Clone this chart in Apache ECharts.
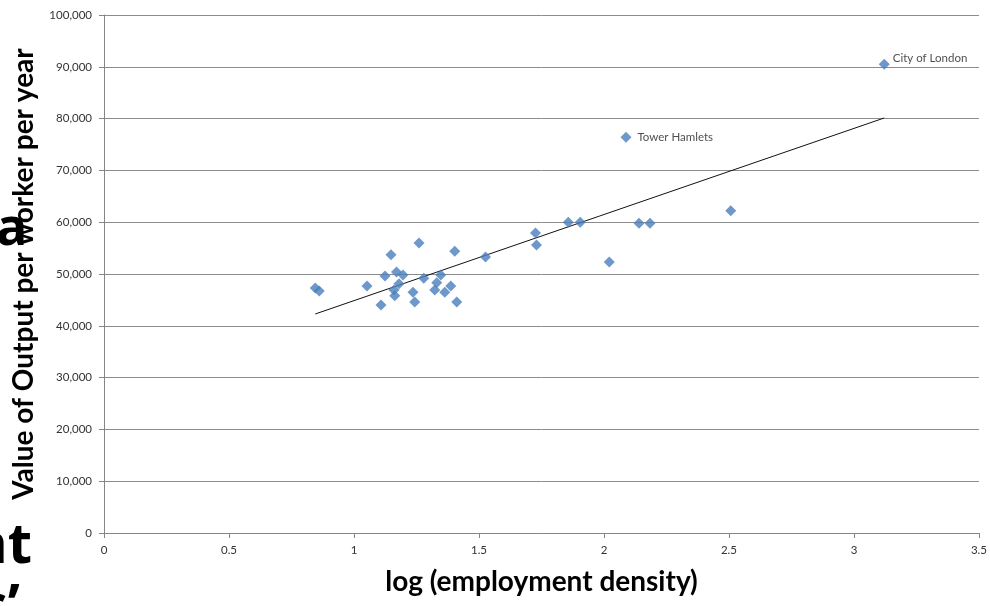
<!DOCTYPE html>
<html>
<head>
<meta charset="utf-8">
<script src="https://cdn.jsdelivr.net/npm/echarts@6/dist/echarts.min.js"></script>
<style>html,body{margin:0;padding:0;background:#fff}#c{width:990px;height:606px}</style>
</head>
<body>
<div id="c"></div>
<script>
// log(employment density) values for each borough
const xValues = [0.845,0.861,1.052,1.108,1.124,1.148,1.160,1.163,1.170,1.180,1.196,1.236,1.243,1.260,1.279,1.323,1.331,1.347,1.363,1.387,1.403,1.411,1.526,1.726,1.730,1.857,1.905,2.021,2.140,2.184,2.507,2.088,3.121];
// value of output per worker per year
const yValues = [47300,46700,47700,44000,49600,53700,46900,45800,50400,48100,49800,46500,44600,56000,49200,46900,48300,49800,46500,47700,54400,44600,53300,57900,55600,60000,60000,52300,59800,59800,62200,76400,90500];
// labelled points
const pointLabels = {31:'Tower Hamlets', 32:'City of London'};
// linear trendline endpoints
const trendX = [0.845, 3.121];
const trendY = [42280, 80120];
const yTicks = [0,10000,20000,30000,40000,50000,60000,70000,80000,90000,100000];

const labelFont = 'Lato, "Open Sans", sans-serif';
const scatterData = xValues.map((x,i)=>{
  const d = {value:[x,yValues[i]]};
  if (pointLabels[i]) {
    d.label = {show:true, formatter:pointLabels[i], position:'right', distance:i===32?3:6,
      color:'#222', fontSize:11.5, fontFamily:labelFont,
      offset: i===32 ? [0,-6] : [0,0]};
  }
  return d;
});
const trendData = trendX.map((x,i)=>[x,trendY[i]]);

const chart = echarts.init(document.getElementById('c'), null, {renderer:'canvas'});
chart.setOption({
  animation:false,
  backgroundColor:'#fff',
  grid:{left:104,right:7,top:15,bottom:73,containLabel:false},
  xAxis:{
    type:'value', min:0, max:3.5, interval:0.5,
    name:'log (employment density)', nameLocation:'middle', nameGap:35,
    nameTextStyle:{fontSize:28, fontWeight:'bold', color:'#000', fontFamily:labelFont},
    axisLine:{show:true, onZero:false, lineStyle:{color:'#868686', width:1}},
    axisTick:{show:true, inside:false, length:5, lineStyle:{color:'#868686'}},
    axisLabel:{color:'#333', fontSize:11.5, margin:11, fontFamily:labelFont,
      formatter:v=>String(v)},
    splitLine:{show:false}
  },
  yAxis:{
    type:'value', min:yTicks[0], max:yTicks[yTicks.length-1], interval:10000,
    name:'Value of Output per worker per year', nameLocation:'middle', nameGap:66,
    nameRotate:90,
    nameTextStyle:{fontSize:28, fontWeight:'bold', color:'#000', fontFamily:labelFont},
    axisLine:{show:true, lineStyle:{color:'#868686', width:1}},
    axisTick:{show:true, inside:false, length:5, lineStyle:{color:'#868686'}},
    axisLabel:{color:'#333', fontSize:11.5, margin:12, fontFamily:labelFont,
      formatter:v=>v.toLocaleString('en-US')},
    splitLine:{show:true, lineStyle:{color:'#8c8c8c', width:1}}
  },
  series:[
    {type:'line', data:trendData, symbol:'none', silent:true,
      lineStyle:{color:'#111', width:1}, z:3},
    {type:'scatter', data:scatterData, symbol:'diamond', symbolSize:11,
      itemStyle:{color:'#4a7ebb'}, z:4}
  ],
  graphic:[
    {type:'text', left:-4, top:204, style:{text:'a', font:'bold 52px "Open Sans", sans-serif', fill:'#000'}},
    {type:'text', left:-29, top:519, style:{text:'nt', font:'bold 56px "Open Sans", sans-serif', fill:'#000'}},
    {type:'text', left:-20, top:580, style:{text:'s’', font:'bold 56px "Open Sans", sans-serif', fill:'#000'}}
  ]
});
</script>
</body>
</html>
